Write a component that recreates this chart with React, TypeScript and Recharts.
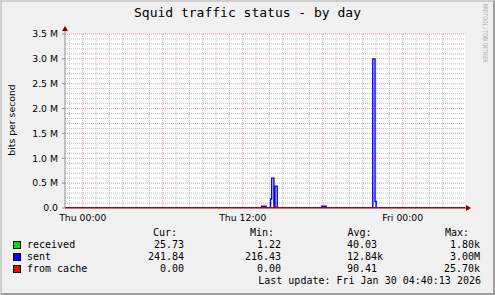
import { LineChart, Line, XAxis, YAxis, CartesianGrid, ReferenceDot } from "recharts";

// time axis in minutes since Thu 00:00 (graph spans Wed 22:40 -> Fri 04:40)
const startMin = -80;
const endMin = 1720;

const xTicks = [0, 720, 1440];
const xTickLabels = ["Thu 00:00", "Thu 12:00", "Fri 00:00"];
const yTicks = [0, 500000, 1000000, 1500000, 2000000, 2500000, 3000000, 3500000];
const yTickLabels = ["0.0", "0.5 M", "1.0 M", "1.5 M", "2.0 M", "2.5 M", "3.0 M", "3.5 M"];

// bits per second, step samples (value holds until next time)
const receivedTimes = [-80, 1720];
const receivedValues = [40, 26];
const sentTimes = [-80, 805, 825, 845, 850, 860, 865, 875, 1075, 1095, 1305, 1315, 1320, 1720];
const sentValues = [240, 35000, 240, 180000, 600000, 240, 440000, 240, 35000, 240, 3000000, 130000, 240, 242];
const cacheTimes = [-80, 865, 870, 1720];
const cacheValues = [0, 25700, 0, 0];

const seriesNames = ["received", "sent", "from cache"];
const seriesColors = ["#00e000", "#0000ff", "#ff0000"];
const curValues = ["25.73", "241.84", "0.00"];
const minValues = ["1.22", "216.43", "0.00"];
const avgValues = ["40.03 ", "12.84k", "90.41 "];
const maxValues = ["1.80k", "3.00M", "25.70k"];
const lastUpdate = "Last update: Fri Jan 30 04:40:13 2026";

const toPoints = (times: number[], values: number[]) =>
  times.map((t, i) => ({ t, v: values[i] }));

const receivedData = toPoints(receivedTimes, receivedValues);
const sentData = toPoints(sentTimes, sentValues);
const cacheData = toPoints(cacheTimes, cacheValues);

// grid positions: hourly minor, 6-hourly major; 0.1M minor, 0.5M major
const hourGrid = Array.from({ length: 29 }, (_, i) => -60 + i * 60);
const valueGrid = Array.from({ length: 35 }, (_, i) => (i + 1) * 100000);

const mono = "'DejaVu Sans Mono', monospace";
const sans = "'DejaVu Sans', sans-serif";
const rowTops = [227, 239, 251, 263, 275];
const majorGridColor = "#e49c9c";
const minorGridColor = "#bcbcbc";

const gridLine = (isMajor: (i: number) => boolean) => (p: any) => (
  <line
    key={p.key}
    x1={p.x1}
    y1={p.y1}
    x2={p.x2}
    y2={p.y2}
    stroke={isMajor(p.index) ? majorGridColor : minorGridColor}
    strokeWidth={1}
    strokeDasharray="1 1"
  />
);

function Text({ x, y, right, children, style }: any) {
  return (
    <div
      style={{
        position: "absolute",
        top: y,
        left: right === undefined ? x : undefined,
        right: right === undefined ? undefined : 495 - right,
        fontFamily: mono,
        fontSize: 10,
        lineHeight: "12px",
        whiteSpace: "pre",
        color: "#000",
        ...style,
      }}
    >
      {children}
    </div>
  );
}

export default function App() {
  return (
    <div
      style={{
        position: "absolute",
        left: 0,
        top: 0,
        width: 495,
        height: 295,
        background: "#f0f0f0",
        overflow: "hidden",
      }}
    >
      <div
        style={{
          position: "absolute",
          inset: 0,
          borderTop: "2px solid #cfcfcf",
          borderLeft: "2px solid #cfcfcf",
          borderRight: "2px solid #9e9e9e",
          borderBottom: "2px solid #9e9e9e",
        }}
      />
      <LineChart
        width={495}
        height={295}
        margin={{ top: 34, right: 30, bottom: 67, left: 0 }}
        style={{ position: "absolute", left: 0, top: 0 }}
      >
        <CartesianGrid
          fill="#ffffff"
          verticalValues={hourGrid}
          horizontalValues={valueGrid}
          vertical={gridLine((i) => hourGrid[i] % 360 === 0)}
          horizontal={gridLine((i) => valueGrid[i] % 500000 === 0)}
        />
        <XAxis
          dataKey="t"
          type="number"
          domain={[startMin, endMin]}
          allowDataOverflow
          ticks={xTicks}
          interval={0}
          tickFormatter={(v: number) => xTickLabels[xTicks.indexOf(v)] ?? ""}
          tick={{ fontFamily: sans, fontSize: 9.3, fill: "#000" }}
          tickSize={0}
          tickMargin={6}
          height={20}
          axisLine={{ stroke: "#800000" }}
        />
        <YAxis
          type="number"
          domain={[0, 3500000]}
          allowDataOverflow
          ticks={yTicks}
          interval={0}
          tickFormatter={(v: number) => yTickLabels[yTicks.indexOf(v)] ?? ""}
          tick={{ fontFamily: sans, fontSize: 9.3, fill: "#000" }}
          tickSize={3}
          tickMargin={4}
          width={65}
          tickLine={{ stroke: "#909090" }}
          axisLine={{ stroke: "#909090" }}
        />
        <Line
          data={receivedData}
          dataKey="v"
          type="stepAfter"
          stroke={seriesColors[0]}
          strokeWidth={1.4}
          dot={false}
          isAnimationActive={false}
        />
        <Line
          data={sentData}
          dataKey="v"
          type="stepAfter"
          stroke={seriesColors[1]}
          strokeWidth={1.4}
          dot={false}
          isAnimationActive={false}
        />
        <Line
          data={cacheData}
          dataKey="v"
          type="stepAfter"
          stroke={seriesColors[2]}
          strokeWidth={1.4}
          dot={false}
          isAnimationActive={false}
        />
        <ReferenceDot
          x={endMin}
          y={0}
          ifOverflow="visible"
          shape={(p: any) => (
            <g>
              <path d={`M${p.cx},${p.cy}H${p.cx + 1}`} stroke="#800000" />
              <path
                d={`M${p.cx + 1},${p.cy - 3}L${p.cx + 6},${p.cy}L${p.cx + 1},${p.cy + 3}Z`}
                fill="#800000"
              />
            </g>
          )}
        />
        <ReferenceDot
          x={startMin}
          y={3500000}
          ifOverflow="visible"
          shape={(p: any) => (
            <g>
              <path d={`M${p.cx},${p.cy}V${p.cy - 3}`} stroke="#909090" />
              <path
                d={`M${p.cx - 3},${p.cy - 3}L${p.cx},${p.cy - 8}L${p.cx + 3},${p.cy - 3}Z`}
                fill="#800000"
              />
            </g>
          )}
        />
      </LineChart>

      <Text x={0} y={5} style={{ width: 495, textAlign: "center", fontSize: 13, lineHeight: "16px" }}>
        Squid traffic status - by day
      </Text>
      <div
        style={{
          position: "absolute",
          left: 11,
          top: 120,
          transform: "translate(-50%, -50%) rotate(-90deg)",
          fontFamily: sans,
          fontSize: 9.3,
          whiteSpace: "nowrap",
        }}
      >
        bits per second
      </div>
      <div
        style={{
          position: "absolute",
          left: 485,
          top: 33,
          transform: "translate(-50%, -50%) rotate(90deg) scaleX(0.7)",
          fontFamily: sans,
          fontSize: 6.5,
          color: "#a8a8a8",
          whiteSpace: "nowrap",
        }}
      >
        RRDTOOL / TOBI OETIKER
      </div>

      <Text x={153} y={rowTops[0]}>Cur:</Text>
      <Text x={250} y={rowTops[0]}>Min:</Text>
      <Text x={347.5} y={rowTops[0]}>Avg:</Text>
      <Text x={445} y={rowTops[0]}>Max:</Text>
      {seriesNames.map((name, i) => (
        <div key={name}>
          <div
            style={{
              position: "absolute",
              left: 13,
              top: rowTops[i + 1] + 2,
              width: 6,
              height: 6,
              background: seriesColors[i],
              border: "1px solid #000",
            }}
          />
          <Text x={27} y={rowTops[i + 1]}>{name}</Text>
          <Text right={184} y={rowTops[i + 1]}>{curValues[i]}</Text>
          <Text right={281} y={rowTops[i + 1]}>{minValues[i]}</Text>
          <Text right={383} y={rowTops[i + 1]}>{avgValues[i]}</Text>
          <Text right={480} y={rowTops[i + 1]}>{maxValues[i]}</Text>
        </div>
      ))}
      <Text right={481} y={rowTops[4]}>{lastUpdate}</Text>
    </div>
  );
}
